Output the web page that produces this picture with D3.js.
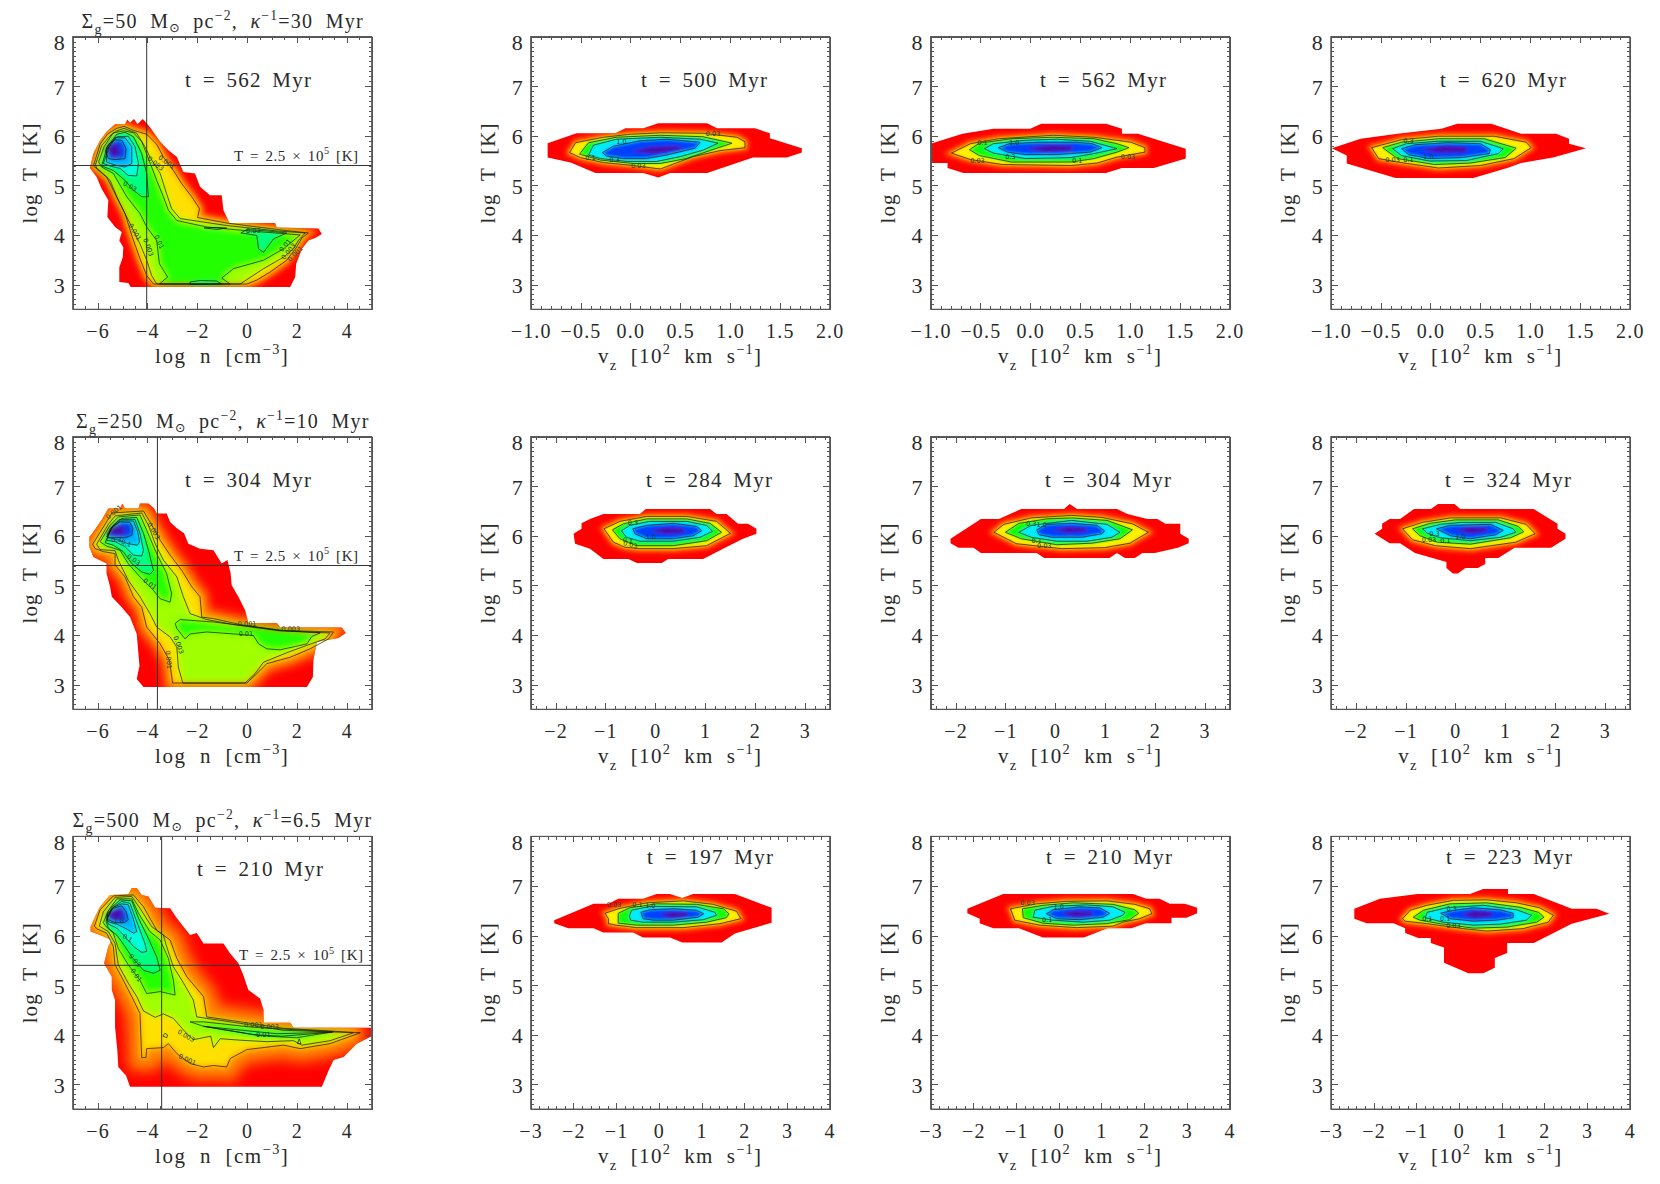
<!DOCTYPE html>
<html>
<head>
<meta charset="utf-8">
<script src="https://cdn.jsdelivr.net/npm/d3@7"></script>
<style>
  html, body { margin: 0; padding: 0; background: #fff; }
  svg { display: block; }
  text { font-family: "Liberation Serif", serif; fill: #2a2a2a; white-space: pre; }
  .axis path, .axis line { stroke: #555; stroke-width: 1; shape-rendering: crispEdges; }
  .contour { fill: none; stroke: #111; stroke-width: 0.8; stroke-opacity: 0.85; }
  .clabel { font-family: "DejaVu Sans", sans-serif; font-size: 6.5px; fill: #16402a; text-anchor: middle; }
</style>
</head>
<body>
<script>
// Contour levels and tick labels
var levelNames = ["0.001", "0.003", "0.01", "0.03", "0.1", "0.3", "1.0"];
var tempTicks = [3, 4, 5, 6, 7, 8];
var densityTicks = [-6, -4, -2, 0, 2, 4];
var vzTicksA = [-1, -0.5, 0, 0.5, 1, 1.5, 2];
var vzTicksB = [-2, -1, 0, 1, 2, 3];
var vzTicksC = [-3, -2, -1, 0, 1, 2, 3, 4];
var times = [[562, 500, 562, 620], [304, 284, 304, 324], [210, 197, 210, 223]];
var densityCut = [-4.03, -3.6, -3.43];
var tempCut = 5.4;

// ---- phase diagrams [log n, log T] ----
// Sigma 50
var p50Edge = [[-6.31,5.35],[-6.17,5.64],[-5.9,5.91],[-5.64,6.08],[-5.3,6.23],[-4.9,6.23],[-4.81,6.33],[-4.7,6.26],[-4.54,6.34],[-4.4,6.23],[-4.19,6.34],[-4.03,6.25],[-3.87,6.15],[-3.49,5.88],[-3.16,5.71],[-2.82,5.57],[-2.56,5.27],[-2.09,5.24],[-1.89,4.97],[-1.49,4.8],[-1.02,4.8],[-0.95,4.5],[-0.71,4.24],[1.12,4.24],[1.19,4.15],[2.86,4.13],[3,4.02],[2.73,3.94],[2.46,3.89],[2.2,3.72],[1.97,3.42],[1.93,3.15],[1.73,2.95],[-4.67,2.95],[-4.77,3.03],[-5.13,3.05],[-5.13,3.35],[-4.99,3.55],[-4.97,3.75],[-5.13,3.89],[-5.03,4.06],[-5.3,4.16],[-5.61,4.36],[-5.57,4.7],[-5.84,4.93],[-6.04,5.17]];
var p50L001 = [[-6.17,5.39],[-5.9,5.83],[-5.61,6.03],[-5.23,6.15],[-4.94,6.19],[-4.56,6.11],[-4.03,6.03],[-3.63,5.83],[-3.36,5.57],[-2.96,5.3],[-2.62,5.03],[-2.22,4.77],[-1.91,4.53],[-1.99,4.35],[-0.82,4.24],[1.19,4.11],[2.46,4.04],[2.2,3.94],[1.97,3.74],[1.59,3.49],[0.92,3.25],[0.39,3.09],[-0.01,3.01],[-3.76,3.01],[-4.03,3.18],[-4.3,3.52],[-4.63,3.99],[-4.9,4.43],[-5.23,4.77],[-5.5,5.1],[-5.9,5.29]];
var p50L003 = [[-5.23,6.1],[-4.94,6.15],[-4.43,6.05],[-4.1,5.78],[-3.9,5.57],[-3.49,5.24],[-3.23,4.83],[-3.03,4.53],[-2.69,4.33],[-0.82,4.19],[1.19,4.08],[2.33,4.04],[2.06,3.89],[1.86,3.72],[1.46,3.55],[0.66,3.32],[-0.28,3.01],[-3.63,3.01],[-3.83,3.18],[-4.03,3.49],[-4.3,3.82],[-4.63,4.16],[-5.03,4.56],[-5.37,4.9],[-5.64,5.17],[-6.01,5.32],[-6.09,5.41],[-5.84,5.8],[-5.5,6]];
var p50L01 = [[-5.37,6.06],[-4.94,6.1],[-4.56,6.06],[-4.23,5.88],[-3.96,5.54],[-3.63,5.1],[-3.36,4.77],[-3.16,4.5],[-2.82,4.29],[-1.62,4.16],[-0.15,4.09],[2.13,4],[1.46,3.72],[0.66,3.49],[-0.55,3.32],[-1.02,3.13],[-0.68,3.01],[-3.52,3.01],[-3.19,3.15],[-3.52,3.42],[-3.63,3.89],[-4.03,4.16],[-4.3,4.43],[-4.83,4.77],[-5.37,5.24],[-5.84,5.37],[-5.96,5.47],[-5.74,5.78]];
var p50L03 = [[-5.23,6.03],[-4.9,6.07],[-4.56,5.98],[-4.23,5.64],[-4.03,5.24],[-3.96,4.77],[-4.23,4.77],[-4.56,4.9],[-4.9,5.1],[-5.37,5.3],[-5.84,5.39],[-5.61,5.78]];
var p50L03b = [[-0.25,4.04],[0.39,3.99],[0.46,3.72],[0.66,3.65],[1.06,3.92],[1.59,4.04],[0.79,4.08],[-0.01,4.11]];
var p50L03c = [[-1.73,4.14],[-1.2,4.11],[-0.82,4.14],[-1.2,4.15]];
var p50L03d = [[-2.29,3.05],[-1.89,3.08],[-1.22,3.07],[-1.02,3.01],[-2.29,3]];
var p50L1 = [[-5.23,5.98],[-4.77,5.99],[-4.5,5.78],[-4.36,5.44],[-4.43,5.19],[-4.77,5.2],[-5.1,5.34],[-5.5,5.39],[-5.77,5.44],[-5.53,5.78]];
var p50L3 = [[-5.3,5.96],[-4.9,5.96],[-4.63,5.78],[-4.63,5.44],[-4.9,5.37],[-5.3,5.41],[-5.64,5.47],[-5.64,5.71]];
var p50L10 = [[-5.3,5.92],[-5.03,5.91],[-4.86,5.74],[-4.9,5.54],[-5.3,5.52],[-5.57,5.54],[-5.68,5.71],[-5.54,5.84]];
var p50Core = [[-5.6,5.72],[-5.4,5.85],[-5.15,5.8],[-5.1,5.6],[-5.4,5.55]];
var p50Labels = [["0.001",-3.23,5.47,35],["0.003",-3.67,5.44,40],["0.03",-4.7,4.98,30],["0.01",-3.53,3.86,65],["0.001",-4.5,4.06,60],["0.003",-3.96,3.75,70],["0.03",0.25,4.08,0],["0.01",1.53,3.79,-50],["0.003",1.66,3.67,-50],["0.001",1.93,3.62,-45]];

// Sigma 250
var p250Edge = [[-6.33,5.78],[-6.33,5.98],[-6.24,6.03],[-5.84,6.32],[-5.57,6.55],[-5.1,6.55],[-5.01,6.65],[-4.9,6.55],[-4.36,6.55],[-4.3,6.65],[-3.96,6.65],[-3.73,6.55],[-3.63,6.45],[-3.23,6.45],[-3.09,6.28],[-2.82,6.15],[-2.53,6.05],[-2.36,5.84],[-1.89,5.74],[-1.35,5.71],[-1.02,5.44],[-0.79,5.51],[-0.66,5.24],[-0.62,5],[-0.35,4.77],[-0.08,4.5],[0.05,4.24],[1.19,4.24],[1.33,4.15],[3.8,4.15],[3.96,4.04],[3.67,3.94],[2.8,3.86],[2.66,3.49],[2.64,3.15],[2.4,2.95],[-4.16,2.95],[-4.43,3.11],[-4.32,3.38],[-4.43,4.02],[-4.7,4.36],[-5.03,4.56],[-5.43,4.77],[-5.5,4.97],[-5.64,5.24],[-5.64,5.44],[-6.17,5.57]];
var p250L001 = [[-6.2,5.83],[-5.64,6.28],[-5.43,6.46],[-4.16,6.5],[-3.9,6.28],[-3.49,5.91],[-3.09,5.61],[-2.62,5.3],[-2.22,4.97],[-1.89,4.77],[-1.82,4.36],[-1.35,4.33],[-0.28,4.21],[1.33,4.09],[3.47,4.06],[3.27,3.92],[2.53,3.72],[1.73,3.55],[0.79,3.42],[0.39,3.22],[-0.01,3.03],[-2.99,3.03],[-3.12,3.49],[-3.49,3.82],[-4.03,4.16],[-4.23,4.56],[-4.56,4.77],[-4.9,5.17],[-5.3,5.41],[-5.3,5.64],[-5.77,5.68],[-6.1,5.74]];
var p250L003 = [[-6.04,5.83],[-5.57,6.23],[-5.3,6.4],[-4.23,6.46],[-3.96,6.21],[-3.69,5.84],[-3.36,5.51],[-2.82,5.17],[-2.56,4.77],[-2.29,4.43],[-1.62,4.31],[-0.55,4.21],[1.33,4.08],[3.33,4.04],[3.13,3.92],[2.4,3.79],[1.59,3.64],[0.66,3.45],[0.32,3.22],[-0.08,3.03],[-2.58,3.03],[-2.76,3.35],[-2.82,3.75],[-3.09,3.96],[-3.63,4.16],[-3.9,4.43],[-4.3,4.77],[-4.77,5.1],[-5.17,5.51],[-5.3,5.7],[-5.9,5.72]];
var p250L01 = [[-5.9,5.88],[-5.5,6.21],[-5.17,6.38],[-4.3,6.42],[-4.03,6.11],[-3.63,5.64],[-3.23,5.24],[-3.03,4.83],[-3.09,4.66],[-3.49,4.73],[-3.76,4.9],[-4.3,5.17],[-4.77,5.44],[-5.1,5.71],[-5.64,5.79]];
var p250L01b = [[-2.89,4.23],[-2.82,4.13],[-2.49,3.92],[-2.29,4.02],[-1.62,4.06],[0.25,3.99],[0.46,3.82],[0.79,3.72],[1.33,3.7],[2.4,3.82],[2.6,3.97],[2.93,4.04],[1.46,4.09],[-1.35,4.26],[-2.69,4.31]];
var p250L03 = [[-5.7,5.86],[-5.37,6.21],[-5.03,6.35],[-4.43,6.37],[-4.16,6.05],[-3.96,5.71],[-3.76,5.3],[-3.9,5.22],[-4.23,5.27],[-4.63,5.44],[-4.97,5.68],[-5.37,5.81]];
var p250L1 = [[-5.64,5.91],[-5.48,6.15],[-5.13,6.33],[-4.5,6.33],[-4.3,6.05],[-4.16,5.71],[-4.23,5.59],[-4.56,5.61],[-4.9,5.78],[-5.3,5.88]];
var p250L3 = [[-5.64,5.98],[-5.43,6.15],[-5.1,6.3],[-4.56,6.3],[-4.39,6.08],[-4.32,5.88],[-4.4,5.81],[-4.77,5.84],[-5.17,5.91]];
var p250L10 = [[-5.6,6.05],[-5.43,6.18],[-5.1,6.28],[-4.7,6.27],[-4.59,6.15],[-4.63,6.01],[-4.9,5.96],[-5.3,5.96],[-5.57,5.96]];
var p250Core = [[-5.55,6.05],[-5.3,6.22],[-4.95,6.18],[-4.9,6.02],[-5.25,5.99]];
var p250Labels = [["0.001",-5.35,6.48,-40],["0.003",-3.75,6.1,60],["0.03",-4.55,5.52,35],["0.01",-3.9,5.03,35],["0.3",-5.25,5.92,0],["0.1",-4.85,5.85,20],["0.001",0,4.22,0],["0.003",1.75,4.12,0],["0.01",-0.05,4.02,0],["0.003",-2.75,3.8,70],["0.001",-3.15,3.5,85]];

// Sigma 500
var p500Edge = [[-6.28,6.08],[-6.28,6.18],[-6.1,6.38],[-5.9,6.58],[-5.5,6.82],[-4.77,6.83],[-4.63,6.96],[-4.43,6.96],[-4.23,6.82],[-3.96,6.79],[-3.69,6.56],[-3.09,6.55],[-2.82,6.35],[-2.29,6.01],[-2.02,6.05],[-1.75,5.84],[-0.95,5.84],[-0.68,5.64],[-0.35,5.44],[-0.15,5.2],[0.05,4.9],[0.52,4.73],[0.66,4.5],[0.66,4.24],[1.73,4.24],[1.86,4.14],[5,4.14],[5,3.97],[4.4,3.82],[3.87,3.55],[3.47,3.49],[3.27,3.28],[3,2.95],[-4.7,2.95],[-4.86,3.18],[-5.17,3.35],[-5.21,3.69],[-5.3,4.16],[-5.3,4.7],[-5.43,4.9],[-5.43,5.17],[-5.74,5.44],[-5.57,5.78],[-5.43,5.91],[-5.9,6.01]];
var p500L001 = [[-6.13,6.19],[-5.9,6.52],[-5.37,6.8],[-4.56,6.82],[-4.16,6.58],[-3.63,6.11],[-3.09,5.91],[-2.82,5.54],[-2.42,5.17],[-1.75,4.77],[-1.62,4.36],[-0.28,4.26],[1.46,4.13],[4.54,4.04],[3.33,3.82],[2.13,3.72],[1.46,3.79],[-0.01,3.7],[-0.68,3.52],[-0.82,3.35],[-1.35,3.38],[-1.75,3.35],[-2.29,3.42],[-2.82,3.62],[-3.16,3.82],[-3.36,3.74],[-4.03,3.72],[-4.06,3.54],[-4.23,3.54],[-4.3,4.43],[-4.63,4.77],[-4.97,5.1],[-5.3,5.41],[-5.37,5.78],[-5.64,6.05],[-6.01,6.13]];
var p500L003 = [[-5.93,6.19],[-5.77,6.48],[-5.3,6.77],[-4.63,6.79],[-4.3,6.55],[-3.83,6.18],[-3.36,6.01],[-3.23,5.78],[-2.96,5.37],[-2.62,5.1],[-2.16,4.7],[-2.02,4.36],[-0.28,4.23],[1.46,4.09],[4.27,4.04],[3.33,3.88],[2.2,3.79],[1.86,3.88],[0.79,3.86],[-0.28,3.89],[-1.08,3.92],[-1.35,3.74],[-1.46,3.97],[-2.16,3.9],[-2.49,4.06],[-2.96,4.33],[-3.36,4.42],[-3.69,4.35],[-4.16,4.48],[-4.43,4.77],[-4.77,5.04],[-5.17,5.41],[-5.3,5.84],[-5.57,6.08]];
var p500L003b = [[-3.38,3.97],[-3.22,3.94],[-3.2,4],[-3.3,4.03]];
var p500L003c = [[2.02,3.82],[2.16,3.82],[2.09,3.92]];
var p500L01 = [[-5.77,6.26],[-5.57,6.5],[-5.23,6.74],[-4.63,6.74],[-4.36,6.45],[-3.9,6.08],[-3.49,5.91],[-3.16,5.54],[-2.96,5.1],[-2.89,4.8],[-3.49,4.87],[-4.03,4.83],[-4.3,5.1],[-4.77,5.41],[-5.17,5.74],[-5.37,6.05],[-5.66,6.18]];
var p500L01b = [[-2.29,4.26],[-1.75,4.26],[0.25,4.15],[1.59,4.11],[3.47,4.06],[1.99,3.94],[1.19,3.96],[0.39,3.99],[-0.68,4.08],[-1.75,4.17]];
var p500L03 = [[-5.66,6.28],[-5.43,6.57],[-5.1,6.72],[-4.63,6.7],[-4.36,6.35],[-3.96,5.94],[-3.63,5.57],[-3.49,5.3],[-3.76,5.24],[-4.16,5.3],[-4.63,5.57],[-4.9,5.78],[-5.23,6.01],[-5.57,6.15]];
var p500L03b = [[-1.75,4.17],[0,4.08],[1.2,4.02],[3.4,4.05],[1.4,3.97],[0.3,4]];
var p500L1 = [[-5.64,6.33],[-5.37,6.57],[-5.03,6.69],[-4.7,6.65],[-4.43,6.28],[-4.1,5.84],[-4.03,5.68],[-4.23,5.66],[-4.56,5.78],[-4.9,5.98],[-5.23,6.15],[-5.57,6.23]];
var p500L3 = [[-5.64,6.38],[-5.37,6.57],[-5.03,6.64],[-4.77,6.62],[-4.56,6.32],[-4.43,6.08],[-4.56,6.05],[-4.9,6.15],[-5.23,6.23],[-5.57,6.28]];
var p500L10 = [[-5.61,6.45],[-5.37,6.55],[-5.03,6.6],[-4.86,6.48],[-4.77,6.32],[-4.94,6.26],[-5.3,6.26],[-5.61,6.33]];
var p500Core = [[-5.6,6.38],[-5.35,6.53],[-5.05,6.55],[-4.95,6.38],[-5.3,6.3]];
var p500Labels = [["1.0",-5.15,6.3,0],["0.1",-4.8,5.95,30],["0.03",-4.5,5.5,50],["0.01",-4.45,5.2,55],["0.003",-2.45,3.98,30],["0.001",-2.4,3.5,25],["0.001",0.25,4.2,0],["0.003",0.9,4.17,0],["0.01",0.65,4,0]];

// ---- velocity diagrams [vz, log T] ----
var v500Edge = [[-0.83,5.85],[-0.54,6.05],[-0.15,6.05],[-0.05,6.15],[0.13,6.15],[0.28,6.25],[0.77,6.25],[0.87,6.15],[1.25,6.15],[1.4,6.05],[1.4,5.95],[1.72,5.75],[1.72,5.66],[1.57,5.56],[1.23,5.56],[0.77,5.25],[0.4,5.25],[0.28,5.16],[0.13,5.25],[-0.35,5.25],[-0.6,5.46],[-0.83,5.56]];
var v500L03 = [[-0.61,5.66],[-0.55,5.86],[-0.27,5.97],[0,6.03],[0.3,6.06],[0.73,6.05],[1.07,5.97],[1.15,5.88],[1.15,5.76],[0.9,5.7],[0.63,5.58],[0.3,5.33],[0.03,5.4],[-0.27,5.46],[-0.5,5.56]];
var v500L1 = [[-0.51,5.63],[-0.42,5.86],[-0.14,5.97],[0.3,6.01],[0.73,5.98],[1.02,5.85],[0.87,5.75],[0.56,5.54],[0.3,5.44],[0.03,5.44],[-0.3,5.51],[-0.44,5.59]];
var v500L3 = [[-0.42,5.61],[-0.37,5.81],[-0.14,5.93],[0.3,5.97],[0.7,5.93],[0.88,5.85],[0.73,5.71],[0.5,5.58],[0.26,5.48],[-0.03,5.48],[-0.3,5.54]];
var v500L10 = [[-0.28,5.66],[-0.17,5.79],[0.1,5.9],[0.36,5.93],[0.7,5.87],[0.65,5.75],[0.36,5.61],[0.16,5.54],[-0.07,5.54],[-0.24,5.59]];
var v500Core = [[0,5.68],[0.2,5.78],[0.45,5.8],[0.55,5.74],[0.25,5.63]];
var v500Labels = [["0.03",0.83,6.05,0],["1.0",-0.09,5.88,0],["0.3",-0.16,5.51,0],["0.1",-0.4,5.55,0],["0.03",0.08,5.39,0]];

var v562Edge = [[-1,5.84],[-0.68,6.04],[-0.37,6.14],[0,6.14],[0.11,6.24],[0.76,6.24],[0.92,6.14],[0.92,6.04],[1.08,6.04],[1.56,5.74],[1.56,5.54],[1.24,5.35],[0.92,5.35],[0.76,5.25],[-0.67,5.25],[-0.83,5.35],[-0.83,5.45],[-1,5.45]];
var v562L03 = [[-0.79,5.65],[-0.6,5.84],[-0.32,5.94],[0.23,6.01],[0.64,5.97],[1.01,5.87],[1.15,5.76],[1.15,5.67],[0.87,5.57],[0.67,5.45],[0.41,5.4],[-0.28,5.42],[-0.6,5.52]];
var v562L1 = [[-0.61,5.72],[-0.51,5.85],[-0.19,5.94],[0.23,5.97],[0.64,5.94],[0.87,5.84],[0.99,5.76],[0.87,5.67],[0.64,5.54],[0.41,5.47],[-0.19,5.47],[-0.51,5.6]];
var v562L3 = [[-0.46,5.74],[-0.37,5.84],[-0.05,5.91],[0.27,5.93],[0.6,5.89],[0.87,5.74],[0.64,5.64],[0.41,5.56],[-0.05,5.54],[-0.37,5.65]];
var v562L10 = [[-0.32,5.76],[-0.21,5.84],[0.09,5.87],[0.46,5.87],[0.62,5.84],[0.72,5.76],[0.6,5.67],[0.27,5.62],[-0.05,5.62],[-0.23,5.67]];
var v562Core = [[-0.05,5.75],[0.2,5.82],[0.42,5.8],[0.42,5.7],[0.15,5.67]];
var v562Labels = [["0.1",-0.48,5.85,0],["1.0",-0.16,5.86,0],["0.3",-0.2,5.58,0],["0.03",-0.53,5.49,0],["0.1",0.47,5.49,0],["0.03",0.98,5.58,0]];

var v620Edge = [[-0.99,5.75],[-0.7,5.94],[-0.33,6.04],[0.11,6.14],[0.27,6.24],[0.61,6.24],[0.91,6.04],[1.26,6.04],[1.39,5.94],[1.39,5.84],[1.56,5.75],[1.23,5.56],[0.91,5.45],[0.77,5.35],[0.43,5.15],[-0.35,5.15],[-0.84,5.44],[-0.84,5.6]];
var v620L03 = [[-0.59,5.76],[-0.29,5.92],[0.08,5.99],[0.64,5.99],[0.96,5.87],[1.01,5.76],[0.84,5.54],[0.5,5.4],[0.08,5.35],[-0.33,5.47],[-0.52,5.54]];
var v620L1 = [[-0.48,5.76],[-0.29,5.87],[0.08,5.94],[0.54,5.94],[0.86,5.75],[0.75,5.56],[0.4,5.45],[0.04,5.42],[-0.33,5.54]];
var v620L3 = [[-0.38,5.74],[-0.24,5.84],[0.08,5.89],[0.5,5.89],[0.73,5.74],[0.68,5.64],[0.36,5.5],[-0.01,5.49],[-0.29,5.6]];
var v620L10 = [[-0.29,5.74],[-0.15,5.82],[0.17,5.86],[0.5,5.84],[0.6,5.72],[0.59,5.64],[0.31,5.56],[-0.01,5.54],[-0.22,5.62]];
var v620Core = [[-0.1,5.72],[0.12,5.8],[0.36,5.78],[0.36,5.66],[0.08,5.65]];
var v620Labels = [["0.3",-0.22,5.89,0],["1.0",-0.02,5.57,0],["0.03",-0.38,5.52,0],["0.1",-0.22,5.52,0]];

var v284Edge = [[-1.64,6.04],[-1.48,6.14],[-1.48,6.25],[-1.31,6.34],[-1.04,6.44],[-0.31,6.44],[-0.19,6.54],[1.1,6.54],[1.23,6.44],[1.43,6.44],[1.66,6.24],[1.86,6.24],[2.03,6.14],[2.03,6.04],[1.76,5.94],[1.36,5.74],[0.96,5.53],[0.26,5.53],[0.13,5.45],[-0.37,5.45],[-0.54,5.53],[-1.04,5.53],[-1.31,5.74],[-1.61,5.84]];
var v284L03 = [[-1.03,6.14],[-0.71,6.29],[-0.17,6.39],[0.63,6.39],[1.23,6.29],[1.51,6.05],[1.03,5.8],[0.36,5.74],[-0.31,5.74],[-0.61,5.77],[-0.84,5.87]];
var v284L1 = [[-0.86,6.12],[-0.64,6.24],[-0.17,6.34],[0.63,6.34],[1.1,6.25],[1.33,6.07],[1.03,5.9],[0.36,5.8],[-0.37,5.8],[-0.71,5.94]];
var v284L3 = [[-0.68,6.1],[-0.51,6.21],[-0.11,6.29],[0.63,6.29],[1.03,6.21],[1.15,6.09],[0.9,5.97],[0.36,5.89],[-0.31,5.89],[-0.58,5.97]];
var v284L10 = [[-0.45,6.14],[-0.17,6.21],[0.36,6.25],[0.83,6.19],[0.93,6.1],[0.76,6],[0.36,5.94],[-0.17,5.94],[-0.41,6.04]];
var v284Core = [[-0.1,6.1],[0.2,6.17],[0.55,6.15],[0.6,6.05],[0.2,6.03]];
var v284Labels = [["0.3",-0.45,6.27,0],["1.0",-0.09,5.98,0],["0.03",-0.5,5.82,15],["0.1",-0.55,5.9,15]];

var v304Edge = [[-2.1,5.94],[-1.49,6.34],[-1.13,6.34],[-0.68,6.54],[0.18,6.54],[0.29,6.64],[0.44,6.54],[1.24,6.54],[1.45,6.44],[1.85,6.34],[2.05,6.34],[2.21,6.24],[2.51,6.24],[2.51,6.04],[2.68,5.94],[2.68,5.85],[2.46,5.76],[2,5.65],[1.75,5.65],[1.6,5.55],[1.4,5.55],[1.24,5.65],[1.09,5.55],[-0.22,5.55],[-0.37,5.65],[-1.49,5.65],[-1.64,5.76],[-1.94,5.76],[-2.1,5.85]];
var v304L03 = [[-1.23,6.07],[-1.03,6.23],[-0.48,6.36],[0.33,6.41],[0.94,6.37],[1.55,6.24],[1.87,6.07],[1.5,5.85],[0.99,5.76],[0.13,5.74],[-0.78,5.84]];
var v304L1 = [[-1,6.07],[-0.73,6.25],[-0.17,6.34],[0.33,6.36],[1.04,6.31],[1.55,6.12],[1.3,5.94],[0.74,5.85],[0.03,5.82],[-0.68,5.94]];
var v304L3 = [[-0.73,6.07],[-0.48,6.21],[0.33,6.31],[1.04,6.23],[1.3,6.07],[1.14,5.97],[0.64,5.89],[0.03,5.89],[-0.48,5.97]];
var v304L10 = [[-0.37,6.12],[-0.17,6.23],[0.33,6.25],[0.84,6.21],[0.99,6.1],[0.94,6.04],[0.54,5.97],[-0.07,5.97],[-0.32,6.02]];
var v304Core = [[-0.05,6.12],[0.25,6.18],[0.6,6.16],[0.65,6.08],[0.25,6.05]];
var v304Labels = [["0.3",-0.48,6.24,0],["1.0",-0.27,6.22,0],["0.1",-0.37,5.9,0],["0.03",-0.22,5.8,0]];

var v324Edge = [[-1.62,6.04],[-1.47,6.14],[-1.47,6.24],[-1.32,6.34],[-1.11,6.34],[-0.83,6.54],[-0.49,6.54],[-0.35,6.64],[-0.02,6.64],[0.1,6.54],[1.57,6.54],[2.05,6.24],[2.05,6.14],[2.21,6.04],[2.21,5.94],[1.92,5.76],[1.19,5.76],[0.86,5.55],[0.6,5.55],[0.6,5.43],[0.45,5.35],[0.2,5.35],[0.05,5.24],[-0.05,5.24],[-0.18,5.35],[-0.18,5.47],[-0.46,5.55],[-0.81,5.65],[-1.11,5.85],[-1.32,5.85]];
var v324L03 = [[-1.06,6.14],[-0.66,6.27],[-0.1,6.36],[0.91,6.36],[1.42,6.23],[1.6,6.04],[1.21,5.87],[0.3,5.74],[-0.4,5.8],[-0.86,5.92]];
var v324L1 = [[-0.86,6.14],[-0.51,6.25],[0,6.32],[0.86,6.32],[1.26,6.19],[1.37,6.08],[1.11,5.96],[0.3,5.83],[-0.36,5.87],[-0.71,6]];
var v324L3 = [[-0.66,6.14],[-0.3,6.23],[0.1,6.27],[0.81,6.27],[1.16,6.14],[1.21,6.07],[0.91,5.97],[0.3,5.9],[-0.3,5.96],[-0.56,6.05]];
var v324L10 = [[-0.38,6.14],[-0.1,6.21],[0.71,6.23],[0.96,6.11],[0.81,6.02],[0.3,5.94],[-0.1,6]];
var v324Core = [[0,6.12],[0.3,6.18],[0.6,6.17],[0.65,6.08],[0.3,6.04]];
var v324Labels = [["0.3",-0.42,6.04,0],["1.0",0.1,5.98,0],["0.1",-0.2,5.89,0],["0.03",-0.53,5.92,0]];

var v197Edge = [[-2.45,6.31],[-2.45,6.25],[-2.12,6.15],[-1.53,6.15],[-1.3,6.06],[-0.6,6.06],[-0.37,5.96],[0.26,5.96],[0.55,5.86],[1.47,5.86],[1.78,6.04],[2.64,6.26],[2.64,6.56],[1.78,6.84],[0.8,6.84],[0.55,6.76],[0.26,6.84],[-0.05,6.84],[-0.37,6.74],[-0.95,6.74],[-1.18,6.64],[-1.53,6.64]];
var v197L03 = [[-1.26,6.45],[-0.95,6.54],[-0.29,6.66],[0.57,6.7],[1.27,6.63],[1.82,6.49],[1.92,6.34],[1.43,6.24],[0.57,6.16],[-0.52,6.16],[-0.99,6.21],[-1.18,6.24],[-1.18,6.34]];
var v197L1 = [[-0.95,6.45],[-0.68,6.56],[-0.05,6.64],[0.88,6.63],[1.51,6.54],[1.64,6.44],[1.58,6.36],[1.12,6.27],[0.34,6.21],[-0.52,6.21],[-0.95,6.25]];
var v197L3 = [[-0.69,6.39],[-0.64,6.51],[-0.21,6.59],[0.88,6.58],[1.31,6.47],[1.35,6.41],[1.04,6.32],[0.34,6.27],[-0.37,6.27],[-0.66,6.31]];
var v197L10 = [[-0.42,6.47],[-0.21,6.52],[0.34,6.54],[0.88,6.51],[1.05,6.44],[0.92,6.37],[0.34,6.31],[-0.13,6.31],[-0.37,6.34]];
var v197Core = [[0,6.42],[0.3,6.48],[0.65,6.47],[0.7,6.39],[0.3,6.35]];
var v197Labels = [["0.03",-1.05,6.62,0],["0.1",-0.5,6.62,0],["1.0",-0.2,6.6,0]];

var v210Edge = [[-2.14,6.54],[-2.14,6.45],[-1.85,6.34],[-1.85,6.25],[-1.53,6.15],[-0.93,6.15],[-0.37,5.96],[0.59,5.96],[1.14,6.15],[1.7,6.15],[2.04,6.25],[2.64,6.25],[2.64,6.36],[2.99,6.36],[3.24,6.45],[3.24,6.56],[2.95,6.64],[2.6,6.64],[2.36,6.74],[2.05,6.74],[1.74,6.84],[-1.3,6.84]];
var v210L03 = [[-1.13,6.54],[-0.52,6.64],[0.18,6.69],[1.12,6.7],[1.78,6.63],[2.13,6.54],[2.18,6.44],[1.89,6.34],[1.5,6.27],[1.27,6.19],[0.41,6.16],[-0.44,6.21],[-1.03,6.31],[-1.08,6.43]];
var v210L1 = [[-0.85,6.54],[-0.37,6.61],[0.34,6.66],[1.27,6.63],[1.78,6.52],[1.87,6.45],[1.66,6.32],[1.12,6.24],[0.34,6.21],[-0.37,6.25],[-0.83,6.36]];
var v210L3 = [[-0.6,6.37],[-0.56,6.51],[-0.13,6.59],[0.65,6.62],[1.27,6.58],[1.55,6.47],[1.5,6.41],[1.19,6.31],[0.57,6.27],[-0.13,6.31]];
var v210L10 = [[-0.29,6.44],[-0.13,6.52],[0.49,6.58],[0.96,6.56],[1.19,6.45],[1.04,6.37],[0.49,6.32],[-0.05,6.34]];
var v210Core = [[0.05,6.44],[0.35,6.5],[0.75,6.49],[0.8,6.4],[0.35,6.37]];
var v210Labels = [["0.03",-0.73,6.66,0],["1.0",0,6.59,0],["0.1",-0.27,6.32,0]];

var v223Edge = [[-2.45,6.54],[-2.45,6.34],[-2.16,6.25],[-1.53,6.25],[-1.26,6.15],[-1.26,6.05],[-0.95,5.95],[-0.66,5.95],[-0.66,5.85],[-0.35,5.76],[-0.35,5.45],[0.22,5.24],[0.57,5.24],[0.84,5.35],[0.84,5.55],[1.13,5.65],[1.13,5.85],[1.75,5.85],[2.64,6.24],[3.52,6.44],[3.22,6.54],[2.64,6.54],[1.75,6.84],[1.15,6.84],[1.15,6.94],[0.57,6.94],[0.26,6.84],[-0.97,6.84],[-1.85,6.74]];
var v223L03 = [[-1.32,6.34],[-1.14,6.51],[-0.75,6.61],[-0.13,6.71],[0.65,6.72],[1.35,6.66],[1.89,6.56],[2.21,6.41],[2.09,6.27],[1.5,6.14],[0.65,6.09],[0.1,6.14],[-0.75,6.24],[-1.26,6.29]];
var v223L1 = [[-1.07,6.37],[-0.83,6.51],[-0.21,6.64],[0.65,6.66],[1.43,6.57],[1.86,6.47],[1.99,6.37],[1.82,6.27],[1.12,6.17],[0.34,6.15],[-0.44,6.24],[-0.91,6.31]];
var v223L3 = [[-0.79,6.36],[-0.74,6.47],[-0.29,6.56],[0.57,6.61],[1.35,6.52],[1.7,6.41],[1.58,6.31],[0.96,6.23],[0.34,6.21],[-0.37,6.27]];
var v223L10 = [[-0.43,6.45],[-0.13,6.51],[0.34,6.56],[0.96,6.52],[1.27,6.45],[1.27,6.36],[0.88,6.31],[0.34,6.29],[-0.21,6.34]];
var v223Core = [[0.05,6.42],[0.35,6.5],[0.75,6.48],[0.8,6.39],[0.35,6.35]];
var v223Labels = [["0.3",-0.17,6.54,0],["0.1",-0.74,6.33,0],["0.03",-0.13,6.2,0],["0.1",-0.32,6.34,0]];

// Panel tables built from the arrays above
function vzPanel(edge, l03, l1, l3, l10, core, labels) {
  return {
    edge: edge, core: core, labels: labels,
    bands: [["0.03", [l03]], ["0.1", [l1]], ["0.3", [l3]], ["1.0", [l10]]]
  };
}
var phasePanels = [
  { edge: p50Edge, core: p50Core, labels: p50Labels,
    bands: [["0.001", [p50L001]], ["0.003", [p50L003]], ["0.01", [p50L01]], ["0.03", [p50L03, p50L03b, p50L03c, p50L03d]], ["0.1", [p50L1]], ["0.3", [p50L3]], ["1.0", [p50L10]]] },
  { edge: p250Edge, core: p250Core, labels: p250Labels,
    bands: [["0.001", [p250L001]], ["0.003", [p250L003]], ["0.01", [p250L01, p250L01b]], ["0.03", [p250L03]], ["0.1", [p250L1]], ["0.3", [p250L3]], ["1.0", [p250L10]]] },
  { edge: p500Edge, core: p500Core, labels: p500Labels,
    bands: [["0.001", [p500L001]], ["0.003", [p500L003, p500L003b, p500L003c]], ["0.01", [p500L01, p500L01b]], ["0.03", [p500L03, p500L03b]], ["0.1", [p500L1]], ["0.3", [p500L3]], ["1.0", [p500L10]]] }
];
var vzPanels = [
  [vzPanel(v500Edge, v500L03, v500L1, v500L3, v500L10, v500Core, v500Labels),
   vzPanel(v562Edge, v562L03, v562L1, v562L3, v562L10, v562Core, v562Labels),
   vzPanel(v620Edge, v620L03, v620L1, v620L3, v620L10, v620Core, v620Labels)],
  [vzPanel(v284Edge, v284L03, v284L1, v284L3, v284L10, v284Core, v284Labels),
   vzPanel(v304Edge, v304L03, v304L1, v304L3, v304L10, v304Core, v304Labels),
   vzPanel(v324Edge, v324L03, v324L1, v324L3, v324L10, v324Core, v324Labels)],
  [vzPanel(v197Edge, v197L03, v197L1, v197L3, v197L10, v197Core, v197Labels),
   vzPanel(v210Edge, v210L03, v210L1, v210L3, v210L10, v210Core, v210Labels),
   vzPanel(v223Edge, v223L03, v223L1, v223L3, v223L10, v223Core, v223Labels)]
];

// Rich text pieces [text, kind]
var titleParts = [
  [["Σ"], ["g", "sub"], ["=50  M"], ["⊙", "sun"], ["  pc"], ["−2", "sup"], [",  "], ["κ", "it"], ["−1", "sup"], ["=30  Myr"]],
  [["Σ"], ["g", "sub"], ["=250  M"], ["⊙", "sun"], ["  pc"], ["−2", "sup"], [",  "], ["κ", "it"], ["−1", "sup"], ["=10  Myr"]],
  [["Σ"], ["g", "sub"], ["=500  M"], ["⊙", "sun"], ["  pc"], ["−2", "sup"], [",  "], ["κ", "it"], ["−1", "sup"], ["=6.5  Myr"]]
];
var densityLabel = [["log  n  [cm"], ["−3", "sup"], ["]"]];
var vzLabel = [["v"], ["z", "sub"], ["  [10"], ["2", "sup"], ["  km  s"], ["−1", "sup"], ["]"]];
var tempLabel = [["log  T  [K]"]];
var cutLabel = [["T = 2.5 × 10"], ["5", "sup"], [" [K]"]];

// Layout
var colLeft = [72.7, 530.7, 930.6, 1330.8];
var rowTop = [36.6, 436.6, 836.4];
var frameW = 299, frameH = 272.7;
var xTitleY = 326.4;
var titleX = [81.5, 76, 72.5], titleY = [28, 428, 827];
var timeX = [[185, 641, 1040, 1440], [185, 646, 1045, 1445], [197, 647, 1046, 1446]];
var timeY = [[87, 87, 87, 87], [487, 487, 487, 487], [876, 864, 864, 864]];
var cutX = [234, 234, 239];
var phaseHalo = [8, 16, 26];
var phaseHaloBlur = [3, 5, 7];

// Fill colours: phase panels and velocity panels step the rainbow differently
var phaseColor = { "0.001": "#ffe000", "0.003": "#a0ff00", "0.01": "#20ff00", "0.03": "#00ff80", "0.1": "#00ffdc", "0.3": "#00b4ff", "1.0": "#0038f0" };
var vzColor = { "0.03": "#fff000", "0.1": "#10ff10", "0.3": "#00ecff", "1.0": "#0040ff" };
var coreColor = "#4a10b0";
var haloColor = "#ff8c00";

var svg = d3.select("body").append("svg")
  .attr("width", 1660)
  .attr("height", 1184);

var defs = svg.append("defs");
function addBlur(id, amount) {
  defs.append("filter").attr("id", id)
    .attr("x", "-25%").attr("y", "-25%").attr("width", "150%").attr("height", "150%")
    .append("feGaussianBlur").attr("stdDeviation", amount);
}
addBlur("blurLow", 3.4);
addBlur("blurHigh", 2);
addBlur("blurVzLow", 1.8);
addBlur("blurVzHigh", 1.5);
addBlur("blurVzHalo", 2.5);
phaseHaloBlur.forEach(function(b, i) { addBlur("blurHalo" + i, b); });

function richText(sel, parts) {
  var shift = 0;
  var size = parseFloat(sel.style("font-size"));
  parts.forEach(function(p) {
    var kind = p[1] || "";
    var target = 0, scale = 1;
    if (kind === "sub") { target = 0.32; scale = 0.7; }
    if (kind === "sun") { target = 0.2; scale = 0.62; }
    if (kind === "sup") { target = -0.42; scale = 0.68; }
    var t = sel.append("tspan")
      .attr("dy", (target - shift) * size)
      .style("font-size", (size * scale) + "px")
      .text(p[0]);
    if (kind === "it") t.style("font-style", "italic");
    if (kind === "sun") t.style("font-family", "'DejaVu Sans'");
    shift = target;
  });
}

function drawAxes(g, x, y, xMajor, xMinor, fmt) {
  var yMinor = d3.range(25, 81).map(function(d) { return d / 10; });
  function add(axis, cls, tr) {
    var a = g.append("g").attr("class", "axis " + cls).attr("transform", tr).call(axis);
    a.selectAll("text").remove();
    return a;
  }
  add(d3.axisBottom(x).tickValues(xMinor).tickSizeInner(-3.5).tickSizeOuter(0), "minor", "translate(0," + frameH + ")");
  add(d3.axisTop(x).tickValues(xMinor).tickSizeInner(-3.5).tickSizeOuter(0), "minor", "translate(0,0)");
  add(d3.axisLeft(y).tickValues(yMinor).tickSizeInner(-3).tickSizeOuter(0), "minor", "translate(0,0)");
  add(d3.axisRight(y).tickValues(yMinor).tickSizeInner(-3).tickSizeOuter(0), "minor", "translate(" + frameW + ",0)");
  add(d3.axisTop(x).tickValues(xMajor).tickSizeInner(-6).tickSizeOuter(0), "major", "translate(0,0)");
  add(d3.axisRight(y).tickValues(tempTicks).tickSizeInner(-7).tickSizeOuter(0), "major", "translate(" + frameW + ",0)");

  g.append("g").attr("class", "axis major")
    .attr("transform", "translate(0," + frameH + ")")
    .call(d3.axisBottom(x).tickValues(xMajor).tickFormat(fmt).tickSizeInner(-6).tickSizeOuter(0).tickPadding(15))
    .selectAll("text")
    .style("font-size", "20px")
    .style("letter-spacing", "1.2px")
    .style("font-family", "'Liberation Serif', serif");

  g.append("g").attr("class", "axis major")
    .call(d3.axisLeft(y).tickValues(tempTicks).tickFormat(d3.format("d")).tickSizeInner(-7).tickSizeOuter(0).tickPadding(8))
    .selectAll("text")
    .style("font-size", "22px")
    .style("font-family", "'Liberation Serif', serif")
    .attr("dy", function(d) { return d === 8 ? "0.6em" : "0.36em"; });
}

function drawPanel(r, c, panel, x, y, colors, style, xMajor, xMinor, fmt) {
  var g = svg.append("g")
    .attr("transform", "translate(" + colLeft[c] + "," + rowTop[r] + ")");

  var line = d3.line()
    .x(function(d) { return x(d[0]); })
    .y(function(d) { return y(d[1]); })
    .curve(d3.curveLinearClosed);

  // Clip the soft colours to the outer red shape
  var clipId = "edge" + r + c;
  defs.append("clipPath").attr("id", clipId)
    .append("path").attr("d", line(panel.edge));
  var frameId = "frame" + r + c;
  defs.append("clipPath").attr("id", frameId)
    .append("rect").attr("width", frameW).attr("height", frameH);

  var plot = g.append("g").attr("clip-path", "url(#" + frameId + ")");
  plot.append("path").attr("d", line(panel.edge)).attr("fill", "#ff0000");

  var inside = plot.append("g").attr("clip-path", "url(#" + clipId + ")");

  // Orange glow around the lowest contour
  inside.append("g").attr("filter", "url(#" + style.haloBlur + ")")
    .selectAll("path")
    .data(panel.bands[0][1])
    .enter()
    .append("path")
    .attr("d", line)
    .attr("fill", haloColor)
    .attr("stroke", haloColor)
    .attr("stroke-width", style.halo);

  // Wide bands get a stronger blur than the narrow ones near the peak
  var low = inside.append("g").attr("filter", "url(#" + style.lowBlur + ")");
  var high = inside.append("g").attr("filter", "url(#" + style.highBlur + ")");
  panel.bands.forEach(function(band, i) {
    (i < style.lowCount ? low : high).selectAll(null)
      .data(band[1])
      .enter()
      .append("path")
      .attr("d", line)
      .attr("fill", colors[band[0]]);
  });
  high.append("path").attr("d", line(panel.core)).attr("fill", coreColor);

  panel.bands.forEach(function(band) {
    plot.selectAll(null)
      .data(band[1])
      .enter()
      .append("path")
      .attr("class", "contour")
      .attr("d", line);
  });

  plot.selectAll(null)
    .data(panel.labels)
    .enter()
    .append("text")
    .attr("class", "clabel")
    .attr("transform", function(d) {
      return "translate(" + x(d[1]) + "," + y(d[2]) + ") rotate(" + d[3] + ")";
    })
    .attr("dy", "0.35em")
    .text(function(d) { return d[0]; });

  drawAxes(g, x, y, xMajor, xMinor, fmt);

  // y title
  g.append("text")
    .attr("transform", "translate(-36," + (frameH / 2) + ") rotate(-90)")
    .attr("text-anchor", "middle")
    .style("font-size", "21px")
    .style("letter-spacing", "1.1px")
    .call(richText, tempLabel);

  // time stamp
  svg.append("text")
    .attr("x", timeX[r][c])
    .attr("y", timeY[r][c])
    .style("font-size", "21px")
    .style("letter-spacing", "1.3px")
    .style("word-spacing", "4px")
    .text("t = " + times[r][c] + " Myr");
  return g;
}

function frameBox(g) {
  g.append("rect")
    .attr("width", frameW).attr("height", frameH)
    .attr("fill", "none").attr("stroke", "#555").attr("stroke-width", 1.1);
}

var vzAxes = [
  { domain: [-1, 2], major: vzTicksA, step: 0.1, fmt: d3.format(".1f") },
  { domain: [-2.5, 3.5], major: vzTicksB, step: 0.2, fmt: d3.format("d") },
  { domain: [-3, 4], major: vzTicksC, step: 0.2, fmt: d3.format("d") }
];

rowTop.forEach(function(top, r) {
  var y = d3.scaleLinear().domain([2.5, 8]).range([frameH, 0]);

  // Phase panel on the left of each row
  var xn = d3.scaleLinear().domain([-7, 5]).range([0, frameW]);
  var nMinor = d3.range(-14, 11).map(function(d) { return d / 2; });
  var phaseStyle = { halo: phaseHalo[r], haloBlur: "blurHalo" + r, lowBlur: "blurLow", highBlur: "blurHigh", lowCount: 3 };
  var gn = drawPanel(r, 0, phasePanels[r], xn, y, phaseColor, phaseStyle, densityTicks, nMinor, d3.format("d"));

  gn.append("line")
    .attr("x1", xn(densityCut[r])).attr("x2", xn(densityCut[r]))
    .attr("y1", 0).attr("y2", frameH)
    .attr("stroke", "#333");
  gn.append("line")
    .attr("x1", 0).attr("x2", frameW)
    .attr("y1", y(tempCut)).attr("y2", y(tempCut))
    .attr("stroke", "#333");
  frameBox(gn);

  svg.append("text")
    .attr("x", cutX[r])
    .attr("y", top + y(tempCut) - 5)
    .style("font-size", "15px")
    .style("letter-spacing", "0.55px")
    .style("word-spacing", "2.2px")
    .call(richText, cutLabel);

  svg.append("text")
    .attr("x", titleX[r])
    .attr("y", titleY[r])
    .style("font-size", "20px")
    .style("letter-spacing", "1.25px")
    .call(richText, titleParts[r]);

  gn.append("text")
    .attr("x", frameW / 2).attr("y", xTitleY)
    .attr("text-anchor", "middle")
    .style("font-size", "21px")
    .style("letter-spacing", "1.5px")
    .call(richText, densityLabel);

  // Three velocity panels
  var ax = vzAxes[r];
  var xv = d3.scaleLinear().domain(ax.domain).range([0, frameW]);
  var vMinor = d3.range(Math.ceil(ax.domain[0] / ax.step - 0.001), Math.floor(ax.domain[1] / ax.step + 0.001) + 1)
    .map(function(d) { return d * ax.step; });
  var vzStyle = { halo: 6, haloBlur: "blurVzHalo", lowBlur: "blurVzLow", highBlur: "blurVzHigh", lowCount: 1 };

  vzPanels[r].forEach(function(panel, i) {
    var gv = drawPanel(r, i + 1, panel, xv, y, vzColor, vzStyle, ax.major, vMinor, ax.fmt);
    frameBox(gv);
    gv.append("text")
      .attr("x", frameW / 2).attr("y", xTitleY)
      .attr("text-anchor", "middle")
      .style("font-size", "21px")
      .style("letter-spacing", "1.3px")
      .call(richText, vzLabel);
  });
});
</script>
</body>
</html>
